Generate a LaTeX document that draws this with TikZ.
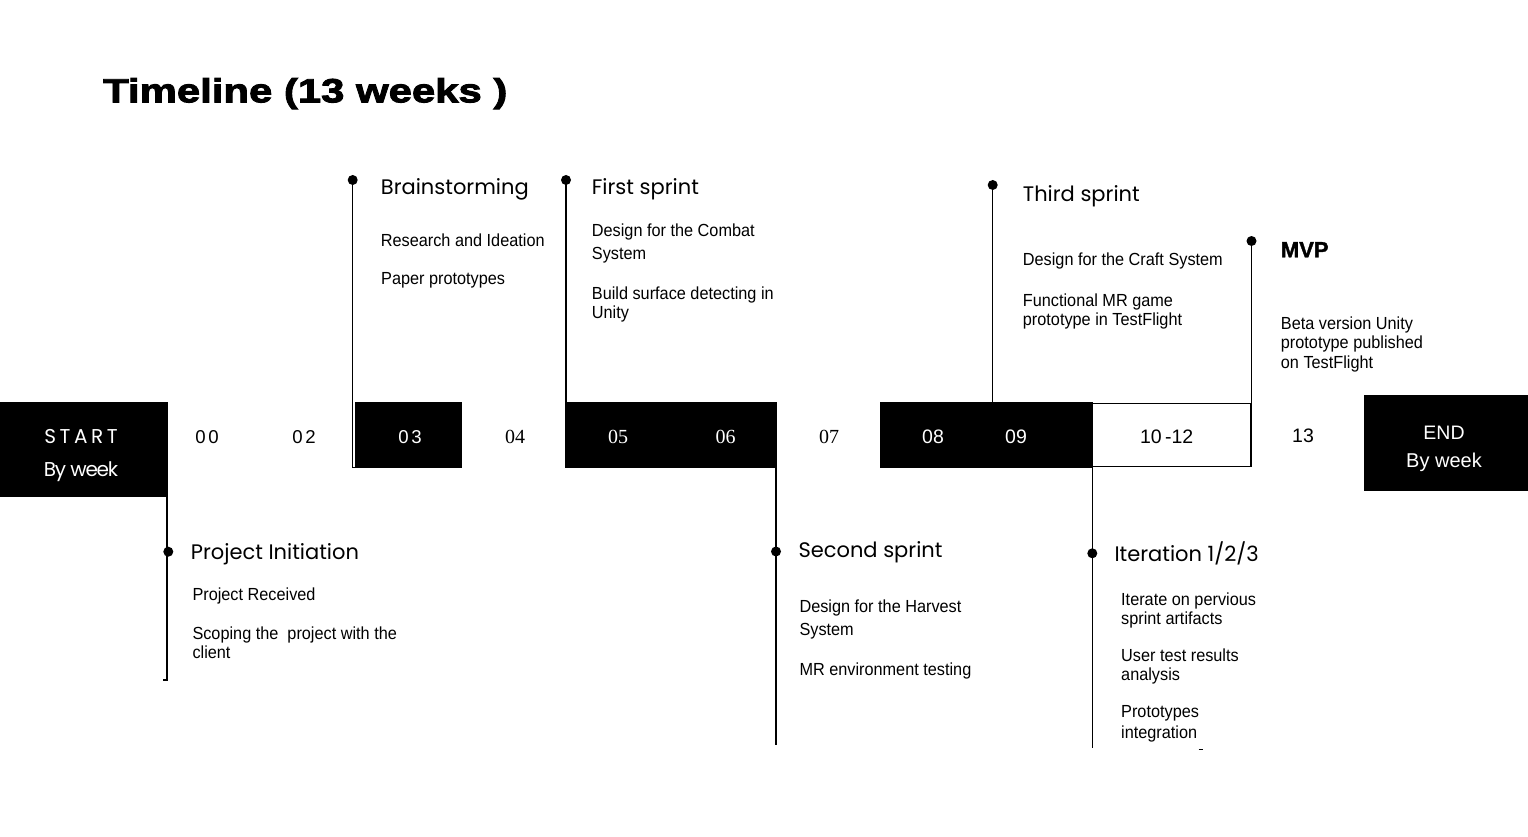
\documentclass[tikz,border=0pt]{standalone}
\usepackage{fontspec}
\setmainfont{Liberation Sans}
\newfontfamily\popfont{Poppins}
\newfontfamily\startfont[LetterSpace=18]{Poppins}
\newfontfamily\byweekfont[LetterSpace=-6]{Poppins}
\newfontfamily\titlefont{Liberation Sans}[BoldFeatures={FakeBold=2.8,FakeStretch=1.25}]
\newfontfamily\mvpfont{Liberation Sans}[BoldFeatures={FakeBold=1.5}]
\newfontfamily\bodyfont[FakeStretch=0.93]{Liberation Sans}
\newfontfamily\spacedfont[LetterSpace=15]{Liberation Sans}
\newfontfamily\serifnum{Liberation Serif}
\newfontfamily\plainfont{Liberation Sans}
\begin{document}
\begin{tikzpicture}[x=1pt,y=-1pt,
  blk/.style={fill=black,draw=black,inner sep=0,outer sep=0},
  wbox/.style={draw=black,line width=1.2pt,inner sep=0,outer sep=0},
  dot/.style={circle,fill=black,inner sep=0,minimum size=10pt},
  vline/.style={line width=1.4pt},
  heading/.style={anchor=base west,inner sep=0,font=\popfont\fontsize{21}{25}\selectfont},
  body/.style={anchor=base west,inner sep=0,font=\bodyfont\fontsize{17.5}{20}\selectfont},
  numsp/.style={anchor=base,inner sep=0,font=\spacedfont\fontsize{18.6}{22}\selectfont},
  numser/.style={anchor=base,inner sep=0,font=\serifnum\fontsize{20}{24}\selectfont},
  numnar/.style={anchor=base,inner sep=0,font=\plainfont\fontsize{19.5}{23}\selectfont},
]
\useasboundingbox (0,0) rectangle (1528,837);

% title
\node[anchor=base west,inner sep=0,font=\titlefont\bfseries\fontsize{33.5}{40}\selectfont] (title) at (103,102.3) {Timeline (13 weeks )};

% blocks
\node[blk,minimum width=167pt,minimum height=94pt] (start) at (83.5,449.5) {};
\node[blk,minimum width=106pt,minimum height=65pt] (b03) at (408,434.8) {};
\node[blk,minimum width=211pt,minimum height=65pt] (b0506) at (670.5,434.8) {};
\node[blk,minimum width=212pt,minimum height=65pt] (b0809) at (986,434.5) {};
\node[wbox,minimum width=159pt,minimum height=63.5pt] (b1012) at (1171.5,435) {};
\node[blk,minimum width=164pt,minimum height=95pt] (end) at (1446,442.5) {};

% block texts
\node[anchor=base,inner sep=0,text=white,font=\startfont\fontsize{20}{24}\selectfont] (tstart) at (81,443.3) {START};
\node[anchor=base,inner sep=0,text=white,font=\byweekfont\fontsize{20}{24}\selectfont] (tstartbw) at (81,476) {By week};
\node[anchor=base,inner sep=0,text=white,font=\plainfont\fontsize{19.5}{24}\selectfont] (tend) at (1444,439.3) {END};
\node[anchor=base,inner sep=0,text=white,font=\plainfont\fontsize{20}{24}\selectfont] (tendbw) at (1444,467.3) {By week};

% week numbers
\node[numsp] (w00) at (207,443) {00};
\node[numsp] (w02) at (304,443) {02};
\node[numsp,text=white] (w03) at (410,443) {03};
\node[numser] (w04) at (515,443) {04};
\node[numser,text=white] (w05) at (618,443) {05};
\node[numser,text=white] (w06) at (725.5,443) {06};
\node[numser] (w07) at (829,443) {07};
\node[numnar,text=white] (w08) at (933,443.3) {08};
\node[numnar,text=white] (w09) at (1016,443.3) {09};
\node[numnar] (w1012) at (1166.7,443.3) {10\,-12};
\node[numnar] (w13) at (1303,442.3) {13};

% dots
\node[dot] (dinit) at (168.3,551.7) {};
\node[dot] (dbrain) at (352.7,180) {};
\node[dot] (dfirst) at (566,180) {};
\node[dot] (dsecond) at (776,551.5) {};
\node[dot] (dthird) at (992.7,185) {};
\node[dot] (dmvp) at (1251.5,241) {};
\node[dot] (diter) at (1092.3,553.3) {};

% connector ends
\coordinate (initbot) at (167,680);
\coordinate (inittick) at (163,680);
\coordinate (secondbot) at (776,745);
\coordinate (iterbot) at (1092.3,748);
\coordinate (itertickA) at (1198.5,749.3);
\coordinate (itertickB) at (1202.5,749.3);

% lines
\draw[vline] (initbot |- start.north) -- (initbot) -- (inittick);
\draw[vline] (dbrain.center) -- (dbrain |- b03.south) -- (b03.south east);
\draw[vline] (dfirst.center) -- (dfirst |- b0506.north);
\draw[vline] (dsecond |- b0506.south) -- (secondbot);
\draw[vline] (dthird.center) -- (dthird |- b0809.north);
\draw[vline] (dmvp.center) -- (dmvp |- b1012.north);
\draw[vline] (diter |- b0809.south) -- (iterbot);
\draw[line width=1pt] (itertickA) -- (itertickB);

% headings
\node[heading] (hinit) at (190.7,559) {Project Initiation};
\node[heading] (hbrain) at (380.7,195) {Brainstorming};
\node[heading] (hfirst) at (591.7,195) {First sprint};
\node[heading] (hsecond) at (798.3,557.7) {Second sprint};
\node[heading] (hthird) at (1022.7,201.7) {Third sprint};
\node[anchor=base west,inner sep=0,font=\mvpfont\bfseries\fontsize{22}{26}\selectfont] (hmvp) at (1280.7,257.3) {MVP};
\node[heading] (hiter) at (1114.3,561.7) {Iteration 1/2/3};

% bodies
\node[body] (b1a) at (380.7,246) {Research and Ideation};
\node[body] (b1b) at (381,284) {Paper prototypes};

\node[body] (f1a) at (591.7,236.7) {Design for the Combat};
\node[body] (f1b) at (591.7,259) {System};
\node[body] (f2a) at (591.7,299.3) {Build surface detecting in};
\node[body] (f2b) at (591.7,318.3) {Unity};

\node[body] (t1a) at (1022.7,265) {Design for the Craft System};
\node[body] (t2a) at (1022.7,306.7) {Functional MR game};
\node[body] (t2b) at (1022.7,325.7) {prototype in TestFlight};

\node[body] (m1a) at (1280.7,329) {Beta version Unity};
\node[body] (m1b) at (1280.7,348.3) {prototype published};
\node[body] (m1c) at (1280.7,368.3) {on TestFlight};

\node[body] (p1a) at (192.3,600) {Project Received};
\node[body] (p2a) at (192.3,639) {Scoping the\ \ project with the};
\node[body] (p2b) at (192.3,658.3) {client};

\node[body] (s1a) at (799.3,612.7) {Design for the Harvest};
\node[body] (s1b) at (799.3,635) {System};
\node[body] (s2a) at (799.3,675) {MR environment testing};

\node[body] (i1a) at (1121,605) {Iterate on pervious};
\node[body] (i1b) at (1121,624) {sprint artifacts};
\node[body] (i2a) at (1121,661.7) {User test results};
\node[body] (i2b) at (1121,680.7) {analysis};
\node[body] (i3a) at (1121,717.7) {Prototypes};
\node[body] (i3b) at (1121,738.3) {integration};
\end{tikzpicture}
\end{document}
